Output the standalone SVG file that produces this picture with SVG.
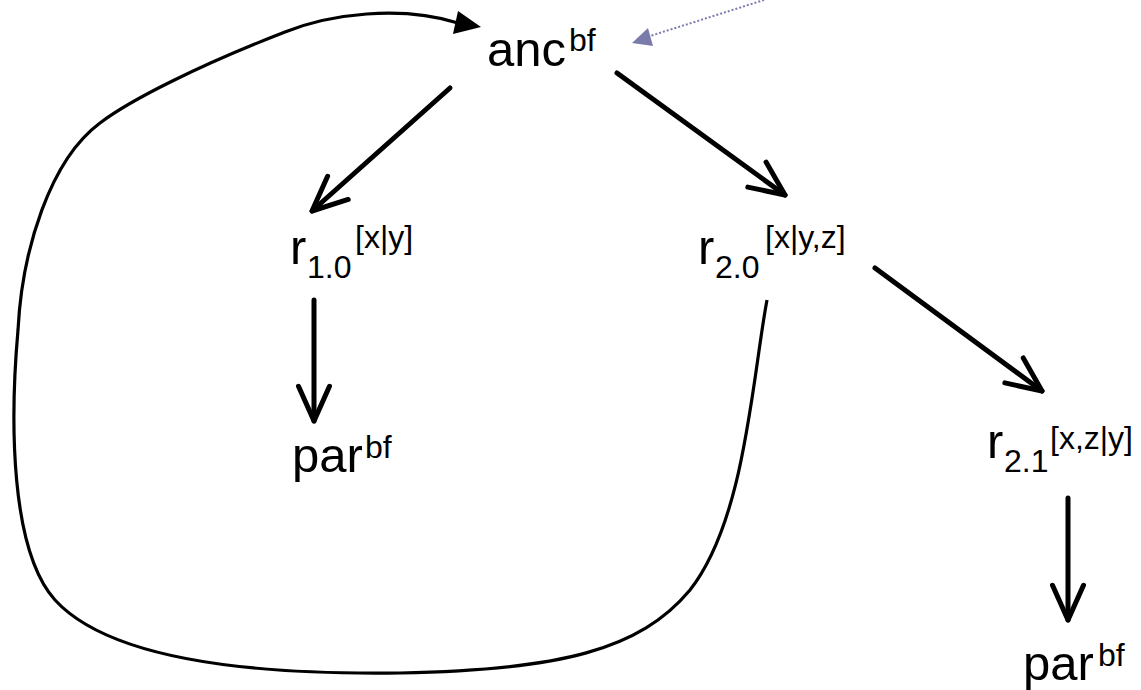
<svg xmlns="http://www.w3.org/2000/svg" width="1141" height="690" viewBox="0 0 1141 690">
<style>
text{font-family:"Liberation Sans",Arial,sans-serif;fill:#000}
.m{font-size:49px}
.s{font-size:32px}
.edge{fill:none;stroke:#000;stroke-width:5;stroke-linecap:round}
.loop{fill:none;stroke:#000;stroke-width:3.2}
</style>
<defs>
<marker id="open" markerUnits="userSpaceOnUse" viewBox="-40 -20 45 40" refX="0" refY="0" markerWidth="45" markerHeight="40" orient="auto" overflow="visible">
<path d="M-34.7,-15.5 L0,0 L-34.7,15.5" fill="none" stroke="#000" stroke-width="5" stroke-linecap="round" stroke-linejoin="round"/>
</marker>
</defs>
<g id="connectors">
<path class="edge" d="M450,88 L312,211" marker-end="url(#open)"/>
<path class="edge" d="M617,73 L785,195" marker-end="url(#open)"/>
<path class="edge" d="M314,300 L314,421" marker-end="url(#open)"/>
<path class="edge" d="M875,268 L1042,391" marker-end="url(#open)"/>
<path class="edge" d="M1068,498 L1068,620" marker-end="url(#open)"/>
<path class="loop" d="M767,300 C752,380 745,520 690,590 C640,650 560,670 400,673 C250,675 110,660 55,600 C10,550 10,420 18,330 C22,250 50,160 100,123 C130,100 200,65 285,32 C330,14 400,5 458,23"/>
<polygon points="481,27 458,11 453,34" fill="#000"/>
<path d="M764,0 L650,36" fill="none" stroke="#7b7bb0" stroke-width="2" stroke-dasharray="2,2"/>
<polygon points="632,43 648,28 653,46" fill="#7b7bab"/>
</g>
<g id="anc"><text class="m" x="487" y="66">anc</text><text class="s" x="569" y="51">bf</text></g>
<g id="r10"><text class="m" x="290" y="264">r</text><text class="s" x="307" y="278">1.0</text><text class="s" x="355" y="248">[x|y]</text></g>
<g id="r20"><text class="m" x="698" y="264">r</text><text class="s" x="715" y="278">2.0</text><text class="s" x="765" y="248">[x|y,z]</text></g>
<g id="r21"><text class="m" x="987" y="458">r</text><text class="s" x="1004" y="472">2.1</text><text class="s" x="1050" y="449">[x,z|y]</text></g>
<g id="par1"><text class="m" x="292" y="472">par</text><text class="s" x="365" y="458">bf</text></g>
<g id="par2"><text class="m" x="1023" y="680">par</text><text class="s" x="1098" y="666">bf</text></g>
</svg>
